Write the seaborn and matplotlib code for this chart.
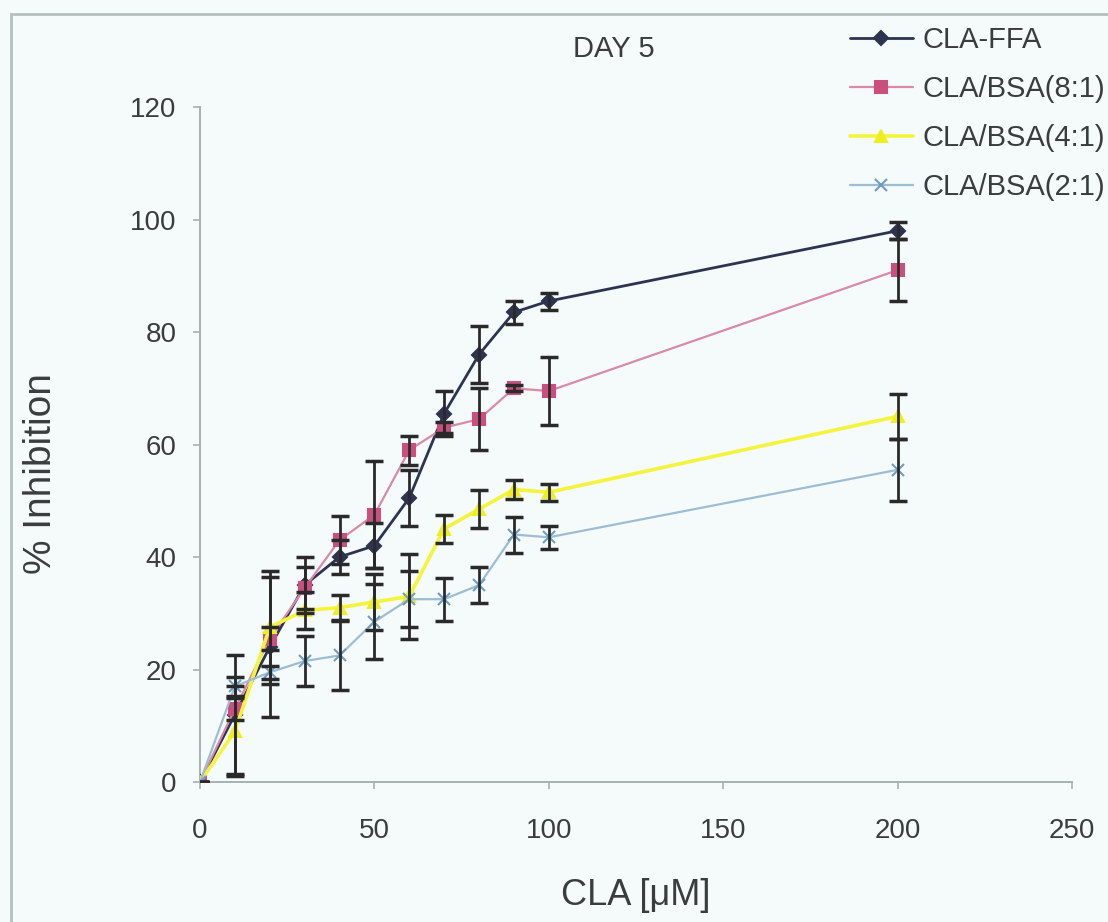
import matplotlib
matplotlib.use("Agg")
import matplotlib.pyplot as plt
from matplotlib.patches import Rectangle
import numpy as np
import pandas as pd
import seaborn as sns

# CLA concentration (uM)
conc = [0, 10, 20, 30, 40, 50, 60, 70, 80, 90, 100, 200]

# % inhibition at day 5 and the standard deviations
ffa = [0, 12, 24, 35, 40, 42, 50.5, 65.5, 76, 83.5, 85.5, 98]
ffa_err = [0, 10.5, 12.5, 5, 3, 4, 5, 4, 5, 2, 1.5, 1.5]

bsa81 = [0, 13, 25.5, 34.5, 43, 47.5, 59, 63, 64.5, 70, 69.5, 91]
bsa81_err = [0, 2, 2, 3.7, 4.3, 9.5, 2.6, 1, 5.5, 0.5, 6, 5.5]

bsa41 = [0, 9, 27.5, 30.5, 31, 32, 33, 45, 48.5, 52, 51.5, 65]
bsa41_err = [0, 8, 10, 3.3, 2.2, 5, 7.5, 2.5, 3.4, 1.7, 1.5, 4]

bsa21 = [0, 17, 19.5, 21.5, 22.5, 28.5, 32.5, 32.5, 35, 44, 43.5, 55.5]
bsa21_err = [0, 1.7, 1.2, 4.4, 6.2, 6.7, 5, 3.8, 3.2, 3.2, 2, 5.5]

series_names = ["CLA-FFA", "CLA/BSA(8:1)", "CLA/BSA(4:1)", "CLA/BSA(2:1)"]

sns.set_theme(style="white")
plt.rcParams["font.family"] = ["Liberation Sans", "DejaVu Sans"]

bg = "#f4fbfa"
text_color = "#3a3d3d"
fig = plt.figure(figsize=(11.08, 9.22), dpi=100, facecolor=bg)
ax = fig.add_axes([200 / 1108, 1 - 782 / 922, 872 / 1108, 675 / 922])
ax.set_facecolor(bg)

styles = [
    dict(vals=ffa, err=ffa_err, color="#2e3350", mcolor="#2e3350", marker="D", ms=7.5, lw=2.0),
    dict(vals=bsa81, err=bsa81_err, color="#d98aa8", mcolor="#c9507e", marker="s", ms=8, lw=1.6),
    dict(vals=bsa41, err=bsa41_err, color="#f4f43c", mcolor="#eeee20", marker="^", ms=9, lw=2.6),
    dict(vals=bsa21, err=bsa21_err, color="#9dbdd4", mcolor="#6f9cc0", marker="x", ms=8, lw=1.6),
]

for name, st in zip(series_names, styles):
    df = pd.DataFrame({"conc": conc, "inhibition": st["vals"]})
    sns.lineplot(data=df, x="conc", y="inhibition", ax=ax, color=st["color"],
                 lw=st["lw"], marker=st["marker"], markersize=st["ms"],
                 markerfacecolor=st["mcolor"], markeredgecolor=st["mcolor"],
                 markeredgewidth=1.5, label=name, zorder=3)

for st in styles:
    ax.errorbar(conc, st["vals"], yerr=st["err"], fmt="none", ecolor="#2a2a2a",
                elinewidth=2.0, capsize=6.5, capthick=2.5, zorder=4)

ax.set_xlim(0, 250)
ax.set_ylim(0, 120)
ax.set_xticks([0, 50, 100, 150, 200, 250])
ax.set_yticks([0, 20, 40, 60, 80, 100, 120])

for side in ["top", "right"]:
    ax.spines[side].set_visible(False)
for side in ["left", "bottom"]:
    ax.spines[side].set_color("#a9b0b0")
    ax.spines[side].set_linewidth(1.4)

ax.tick_params(axis="both", which="both", direction="out", length=5, width=1.2,
               color="#a9b0b0", labelsize=20, labelcolor=text_color,
               bottom=True, left=True)
ax.tick_params(axis="x", pad=21)
ax.tick_params(axis="y", pad=12)

ax.set_xlabel("")
ax.set_ylabel("")
fig.text(636 / 1108, 1 - 895 / 922, "CLA [μM]", fontsize=26, color=text_color,
         ha="center", va="center")
fig.text(41 / 1108, 1 - 474 / 922, "% Inhibition", fontsize=28, color=text_color,
         ha="center", va="center", rotation=90)

fig.text(614 / 1108, 1 - 49 / 922, "DAY 5", fontsize=21, color=text_color,
         ha="center", va="center")

leg = ax.legend(loc="upper left", bbox_to_anchor=(850 / 1108, 1 - 26 / 922),
                bbox_transform=fig.transFigure, frameon=False, fontsize=21,
                handlelength=2.15, labelspacing=0.72, handletextpad=0.34,
                borderaxespad=0, borderpad=0)
for t in leg.get_texts():
    t.set_color(text_color)

# thin frame around the figure
fig.patches.append(Rectangle((11 / 1108, -0.01), 1.2, 1 - 14 / 922 + 0.01,
                             transform=fig.transFigure, fill=False,
                             edgecolor="#b8bfbf", lw=2.0))

fig.savefig("out.png", dpi=100, facecolor=bg)
